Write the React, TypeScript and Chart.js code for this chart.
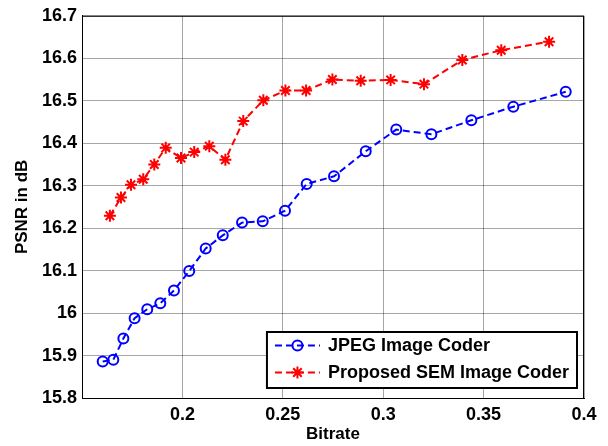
import { useEffect, useRef } from 'react';
import { Chart, registerables } from 'chart.js';

Chart.register(...registerables);

const jpegBitrate = [0.1603, 0.1656, 0.1706, 0.1762, 0.1825, 0.189, 0.1958, 0.2034, 0.2116, 0.2201, 0.2297, 0.24, 0.2511, 0.2619, 0.2755, 0.2913, 0.3065, 0.324, 0.3439, 0.3648, 0.3909];
const jpegPsnr = [15.886, 15.89, 15.94, 15.988, 16.009, 16.023, 16.053, 16.099, 16.152, 16.183, 16.213, 16.216, 16.241, 16.304, 16.322, 16.381, 16.432, 16.421, 16.454, 16.486, 16.521];

const semBitrate = [0.1639, 0.1694, 0.1744, 0.1805, 0.186, 0.1917, 0.1993, 0.2059, 0.2134, 0.2214, 0.2303, 0.2403, 0.2513, 0.2616, 0.2747, 0.2888, 0.3037, 0.3203, 0.3394, 0.3588, 0.3826];
const semPsnr = [16.229, 16.272, 16.302, 16.315, 16.35, 16.389, 16.365, 16.379, 16.393, 16.361, 16.452, 16.501, 16.524, 16.524, 16.55, 16.547, 16.549, 16.539, 16.596, 16.619, 16.639];

const xTickValues = [0.15, 0.2, 0.25, 0.3, 0.35, 0.4];
const xTickLabels = ['', '0.2', '0.25', '0.3', '0.35', '0.4'];
const yTickValues = [15.8, 15.9, 16, 16.1, 16.2, 16.3, 16.4, 16.5, 16.6, 16.7];
const yTickLabels = ['15.8', '15.9', '16', '16.1', '16.2', '16.3', '16.4', '16.5', '16.6', '16.7'];

const seriesLabels = ['JPEG Image Coder', 'Proposed SEM Image Coder'];
const xTitle = 'Bitrate';
const yTitle = 'PSNR in dB';

const FONT = '"Liberation Sans", Arial, sans-serif';

const boxPlugin = {
  id: 'axesBox',
  afterDraw(chart: any) {
    const { ctx, chartArea } = chart;
    ctx.save();
    ctx.strokeStyle = '#000';
    ctx.lineWidth = 1;
    ctx.strokeRect(chartArea.left + 0.5, chartArea.top + 0.5, chartArea.right - chartArea.left - 1, chartArea.bottom - chartArea.top);
    ctx.restore();
  },
};

function drawMarker(ctx: CanvasRenderingContext2D, d: any, px: number, py: number) {
  const r = d.pointRadius;
  ctx.save();
  ctx.strokeStyle = d.pointBorderColor;
  ctx.fillStyle = d.pointBackgroundColor;
  ctx.lineWidth = d.pointBorderWidth;
  ctx.setLineDash([]);
  ctx.beginPath();
  if (d.pointStyle === 'circle') {
    ctx.arc(px, py, r, 0, Math.PI * 2);
    ctx.fill();
    ctx.stroke();
  } else {
    for (let k = 0; k < 4; k++) {
      const a = (k * Math.PI) / 4;
      ctx.moveTo(px - r * Math.cos(a), py - r * Math.sin(a));
      ctx.lineTo(px + r * Math.cos(a), py + r * Math.sin(a));
    }
    ctx.stroke();
  }
  ctx.restore();
}

const legendPlugin = {
  id: 'boxLegend',
  afterDraw(chart: any) {
    const { ctx, chartArea } = chart;
    const ds = chart.data.datasets;
    ctx.save();
    ctx.font = `bold 18px ${FONT}`;
    const textW = Math.max(...ds.map((d: any) => ctx.measureText(d.label).width));
    const padL = 8;
    const sampleW = 45;
    const gap = 8;
    const padR = 8;
    const rowH = 27;
    const w = padL + sampleW + gap + textW + padR;
    const h = 56;
    const x = chartArea.right - 7 - w;
    const y = chartArea.bottom - 10 - h;
    ctx.fillStyle = '#fff';
    ctx.fillRect(x, y, w, h);
    ctx.strokeStyle = '#000';
    ctx.lineWidth = 2;
    ctx.strokeRect(x, y, w, h);
    ds.forEach((d: any, i: number) => {
      const cy = y + 13.5 + i * rowH;
      const sx0 = x + padL;
      const sx1 = sx0 + sampleW;
      ctx.strokeStyle = d.borderColor;
      ctx.lineWidth = d.borderWidth;
      ctx.setLineDash(d.borderDash);
      ctx.beginPath();
      ctx.moveTo(sx0, cy);
      ctx.lineTo(sx1, cy);
      ctx.stroke();
      ctx.setLineDash([]);
      drawMarker(ctx, d, (sx0 + sx1) / 2, cy);
      ctx.fillStyle = '#000';
      ctx.textBaseline = 'middle';
      ctx.textAlign = 'left';
      ctx.fillText(d.label, sx1 + gap, cy + 1);
    });
    ctx.restore();
  },
};

export default function App() {
  const ref = useRef<HTMLCanvasElement | null>(null);

  useEffect(() => {
    if (!ref.current) return;
    const chart = new Chart(ref.current, {
      type: 'line',
      data: {
        datasets: [
          {
            label: seriesLabels[0],
            data: jpegBitrate.map((x, i) => ({ x, y: jpegPsnr[i] })),
            borderColor: '#0000ff',
            borderWidth: 2,
            borderDash: [7, 4],
            pointStyle: 'circle',
            pointRadius: 5,
            pointBorderWidth: 2,
            pointBorderColor: '#0000ff',
            pointBackgroundColor: 'rgba(0,0,0,0)',
            tension: 0,
          },
          {
            label: seriesLabels[1],
            data: semBitrate.map((x, i) => ({ x, y: semPsnr[i] })),
            borderColor: '#ff0000',
            borderWidth: 2,
            borderDash: [7, 4],
            pointStyle: 'star',
            pointRadius: 6,
            pointBorderWidth: 2,
            pointBorderColor: '#ff0000',
            pointBackgroundColor: '#ff0000',
            tension: 0,
          },
        ] as any,
      },
      options: {
        animation: false,
        responsive: false,
        devicePixelRatio: 1,
        layout: { padding: { top: 12, right: 24, left: 0, bottom: 0 } },
        plugins: { legend: { display: false }, tooltip: { enabled: false } },
        scales: {
          x: {
            type: 'linear',
            min: 0.15,
            max: 0.4,
            afterBuildTicks: (s: any) => {
              s.ticks = xTickValues.map((v) => ({ value: v }));
            },
            afterFit: (s: any) => {
              s.height = 48;
            },
            ticks: {
              autoSkip: false,
              maxRotation: 0,
              padding: 6,
              color: '#000',
              font: { family: FONT, size: 18, weight: 'bold' },
              callback: (v: any) => {
                const i = xTickValues.findIndex((t) => Math.abs(t - v) < 1e-9);
                return i >= 0 ? xTickLabels[i] : '';
              },
            },
            grid: { color: 'rgba(0,0,0,0.35)', lineWidth: 1, drawTicks: false },
            border: { color: '#000', width: 1 },
            title: {
              display: true,
              text: xTitle,
              color: '#000',
              font: { family: FONT, size: 17, weight: 'bold' },
              padding: { top: 0, bottom: 1 },
            },
          },
          y: {
            type: 'linear',
            min: 15.8,
            max: 16.7,
            afterBuildTicks: (s: any) => {
              s.ticks = yTickValues.map((v) => ({ value: v }));
            },
            afterFit: (s: any) => {
              s.width = 82;
            },
            ticks: {
              autoSkip: false,
              padding: 5,
              color: '#000',
              font: { family: FONT, size: 18, weight: 'bold' },
              callback: (v: any) => {
                const i = yTickValues.findIndex((t) => Math.abs(t - v) < 1e-9);
                return i >= 0 ? yTickLabels[i] : '';
              },
            },
            grid: { color: 'rgba(0,0,0,0.35)', lineWidth: 1, drawTicks: false },
            border: { color: '#000', width: 1 },
            title: {
              display: true,
              text: yTitle,
              color: '#000',
              font: { family: FONT, size: 17, weight: 'bold' },
              padding: { top: 12, bottom: 0 },
            },
          },
        },
      } as any,
      plugins: [boxPlugin, legendPlugin],
    });
    return () => chart.destroy();
  }, []);

  return (
    <div style={{ position: 'absolute', left: 0, top: 0, width: 608, height: 446, background: '#fff' }}>
      <canvas ref={ref} width={608} height={446} style={{ width: 608, height: 446 }} />
    </div>
  );
}
